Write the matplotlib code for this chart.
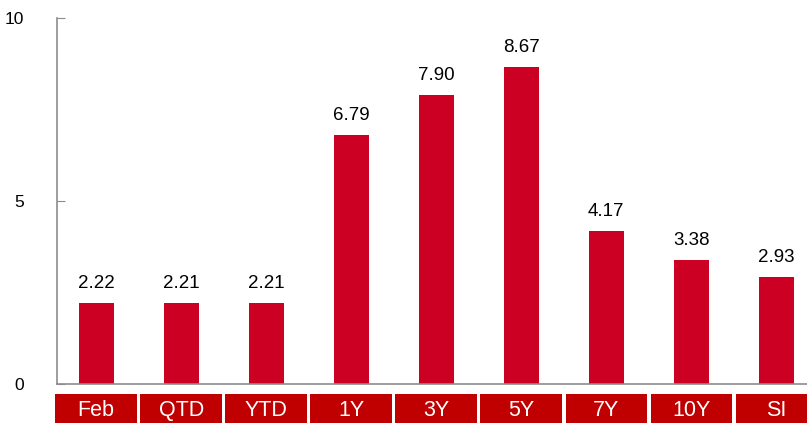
import matplotlib
matplotlib.use("Agg")
import matplotlib.pyplot as plt
import matplotlib.transforms as mtransforms
from matplotlib.patches import Rectangle

categories = ["Feb", "QTD", "YTD", "1Y", "3Y", "5Y", "7Y", "10Y", "SI"]
values = [2.22, 2.21, 2.21, 6.79, 7.90, 8.67, 4.17, 3.38, 2.93]
value_labels = ["2.22", "2.21", "2.21", "6.79", "7.90", "8.67", "4.17", "3.38", "2.93"]
yticks = [0, 5, 10]

plt.rcParams['font.family'] = ['Liberation Sans', 'DejaVu Sans']

W, H = 807, 423
fig = plt.figure(figsize=(W / 100, H / 100), dpi=100)
ax = fig.add_axes([57 / W, (H - 384) / H, 750 / W, 366 / H])

x = list(range(len(categories)))
ax.bar(x, values, width=0.41, color="#CC0022", zorder=2)
for xi, v, lab in zip(x, values, value_labels):
    ax.annotate(lab, (xi, v), xytext=(0, 8), textcoords="offset points",
                ha="center", va="bottom", fontsize=13.5, color="#000000")

ax.set_xlim(-0.46, 8.36)
ax.set_ylim(0, 10)
ax.set_yticks(yticks)
ax.set_yticklabels([str(t) for t in yticks], fontsize=12.5)
ax.set_xticks([])
for s in ["top", "right"]:
    ax.spines[s].set_visible(False)
for s in ["left", "bottom"]:
    ax.spines[s].set_color("#8c8c8c")
    ax.spines[s].set_linewidth(1.2)
ax.tick_params(axis="y", direction="in", length=6, color="#8c8c8c", pad=24)

trans = mtransforms.blended_transform_factory(ax.transData, fig.transFigure)
for xi, c in zip(x, categories):
    r = Rectangle((xi - 0.48, 0), 0.96, 29 / H, transform=trans,
                  facecolor="#C00000", edgecolor="none", clip_on=False)
    fig.add_artist(r)
    fig.text(xi, 13 / H, c, transform=trans, ha="center", va="center",
             color="white", fontsize=15.5)

fig.savefig("out.png", dpi=100)
